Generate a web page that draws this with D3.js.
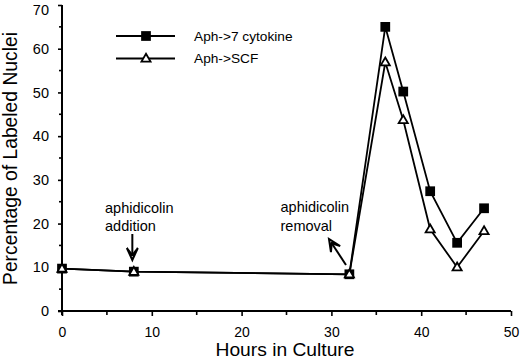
<!DOCTYPE html>
<html><head><meta charset="utf-8">
<script src="https://cdn.jsdelivr.net/npm/d3@7"></script>
<style>body{margin:0;background:#fff}svg{display:block;font-family:"Liberation Sans",Arial,sans-serif}</style>
</head><body><svg id="c" width="520" height="360"></svg>
<script>
const hours = [0, 8, 32, 36, 38, 41, 44, 47];
const cytokine7 = [9.7, 9.0, 8.4, 65, 50.2, 27.4, 15.6, 23.5];
const scf = [9.7, 9.0, 8.4, 56.9, 43.7, 18.7, 10.0, 18.3];
const xTicks = [0, 10, 20, 30, 40, 50];
const yTicks = [0, 10, 20, 30, 40, 50, 60, 70];
const seriesNames = ["Aph->7 cytokine", "Aph->SCF"];

const svg = d3.select("#c");
const x = d3.scaleLinear().domain([0, 50]).range([62, 511]);
const y = d3.scaleLinear().domain([0, 70]).range([311, 5]);
const FF = "Liberation Sans, Arial, sans-serif";

// axes
const xAxis = d3.axisBottom(x).tickValues(xTicks).tickSize(5).tickPadding(11).tickFormat(d3.format("d"));
const gx = svg.append("g").attr("transform", "translate(0,311)").call(xAxis);
gx.select(".domain").attr("d", "M58,0H511").attr("stroke-width", 2);
gx.selectAll(".tick line").attr("stroke-width", 1.6);
gx.selectAll("text").attr("font-size", 14).attr("font-family", FF);
const xMinor = d3.range(5, 50, 10);
gx.selectAll(".minor").data(xMinor).enter().append("line")
  .attr("x1", d => x(d)).attr("x2", d => x(d)).attr("y1", 0).attr("y2", 4)
  .attr("stroke", "#000").attr("stroke-width", 1.6);

const yAxis = d3.axisLeft(y).tickValues(yTicks).tickSize(4).tickPadding(9).tickFormat(d3.format("d"));
const gy = svg.append("g").attr("transform", "translate(62,0)").call(yAxis);
gy.select(".domain").attr("d", "M0,5V315").attr("stroke-width", 2);
gy.selectAll(".tick line").attr("stroke-width", 1.6);
gy.selectAll("text").attr("font-size", 14.5).attr("font-family", FF);
gy.selectAll(".tick").filter(d => d === 70).select("text").attr("dy", "0.62em");
const yMinor = d3.range(5, 70, 10);
gy.selectAll(".minor").data(yMinor).enter().append("line")
  .attr("x1", -3).attr("x2", 0).attr("y1", d => y(d)).attr("y2", d => y(d))
  .attr("stroke", "#000").attr("stroke-width", 1.6);

// axis titles
svg.append("text").attr("transform", "translate(285,356) scale(1.1,1)").attr("text-anchor", "middle")
  .attr("font-size", 17.5).text("Hours in Culture");
svg.append("text").attr("transform", "translate(16.5,158.5) rotate(-90)").attr("text-anchor", "middle")
  .attr("font-size", 19.3).text("Percentage of Labeled Nuclei");

// lines
const line = d3.line().x(d => x(d[0])).y(d => y(d[1]));
const d1 = hours.map((h, i) => [h, cytokine7[i]]);
const d2 = hours.map((h, i) => [h, scf[i]]);
svg.append("path").datum(d1).attr("d", line).attr("fill", "none").attr("stroke", "#000").attr("stroke-width", 1.8);
svg.append("path").datum(d2).attr("d", line).attr("fill", "none").attr("stroke", "#000").attr("stroke-width", 1.8);

const sq = d3.symbol().type(d3.symbolSquare).size(95);
const tri = d3.symbol().type(d3.symbolTriangle).size(36);
svg.selectAll(".sq").data(d1).enter().append("path")
  .attr("d", sq).attr("transform", d => `translate(${x(d[0])},${y(d[1])})`)
  .attr("fill", "#000");
svg.selectAll(".tri").data(d2).enter().append("path")
  .attr("d", tri).attr("transform", d => `translate(${x(d[0])},${y(d[1]) + 0.5})`)
  .attr("fill", "#fff").attr("stroke", "#000").attr("stroke-width", 1.8);

// legend
const leg = svg.append("g");
[0, 1].forEach(i => {
  const ly = 36 + i * 22.5;
  leg.append("line").attr("x1", 116).attr("x2", 175).attr("y1", ly).attr("y2", ly)
    .attr("stroke", "#000").attr("stroke-width", 1.8);
  leg.append("path").attr("d", i === 0 ? sq : tri)
    .attr("transform", `translate(146,${ly + (i ? 0.5 : 0)})`)
    .attr("fill", i === 0 ? "#000" : "#fff").attr("stroke", i === 0 ? "none" : "#000").attr("stroke-width", 1.8);
  leg.append("text").attr("x", 194).attr("y", ly + 4.8).attr("font-size", 13.7).text(seriesNames[i]);
});

// annotations
function arrow(x1, y1, x2, y2) {
  const ang = Math.atan2(y2 - y1, x2 - x1);
  svg.append("line").attr("x1", x1).attr("y1", y1)
    .attr("x2", x2 - Math.cos(ang) * 5).attr("y2", y2 - Math.sin(ang) * 5)
    .attr("stroke", "#000").attr("stroke-width", 2);
  const L = 12, W = 5.5, N = 5;
  const pts = [[0, 0], [-L, -W], [-N, 0], [-L, W]].map(([a, b]) =>
    [x2 + a * Math.cos(ang) - b * Math.sin(ang), y2 + a * Math.sin(ang) + b * Math.cos(ang)]);
  svg.append("path").attr("d", "M" + pts.map(p => p.join(",")).join("L") + "Z")
    .attr("fill", "#fff").attr("stroke", "#000").attr("stroke-width", 2).attr("stroke-linejoin", "miter");
}
svg.append("text").attr("x", 105).attr("y", 212.5).attr("font-size", 14.5).text("aphidicolin");
svg.append("text").attr("x", 105).attr("y", 230.5).attr("font-size", 14.5).text("addition");
arrow(x(8) - 1.5, 234, x(8) - 1.5, 260);
svg.append("text").attr("x", 280.5).attr("y", 211.5).attr("font-size", 14.5).text("aphidicolin");
svg.append("text").attr("x", 280.5).attr("y", 230.5).attr("font-size", 14.5).text("removal");
arrow(346, 265, 329, 239);
</script></body></html>
